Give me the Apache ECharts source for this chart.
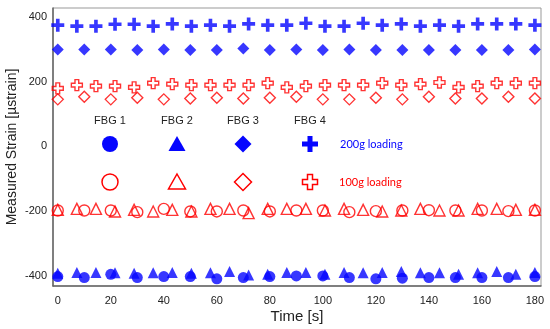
<!DOCTYPE html>
<html><head><meta charset="utf-8">
<script src="https://cdn.jsdelivr.net/npm/echarts@6/dist/echarts.min.js"></script>
<style>html,body{margin:0;padding:0;background:#fff}#c{width:550px;height:329px}</style>
</head><body><div id="c"></div>
<script>
// time bases
const t10 = [0,10,20,30,40,50,60,70,80,90,100,110,120,130,140,150,160,170,180];
const t7 = [0,7.2,14.4,21.6,28.8,36,43.2,50.4,57.6,64.8,72,79.2,86.4,93.6,100.8,108,115.2,122.4,129.6,136.8,144,151.2,158.4,165.6,172.8,180];
// 200g loading (blue)
const fbg4_200 = [374,371,371,377,377,371,378,371,374,371,378,374,374,380,371,371,380,374,378,371,374,371,378,378,378,374];
const fbg3_200 = [299,299,299,297,299,297,297,302,297,299,297,299,297,297,297,297,297,297,299];
const fbg1_200 = [-402,-405,-395,-405,-402,-402,-409,-405,-402,-400,-400,-405,-409,-407,-405,-405,-405,-405,-402];
const fbg2_200 = [-392,-389,-389,-390,-392,-390,-389,-392,-390,-386,-397,-395,-389,-389,-395,-389,-390,-389,-386,-390,-390,-395,-390,-386,-395,-389];
// 100g loading (red)
const fbg4_100 = [179,189,186,186,182,195,192,189,189,189,189,195,182,186,189,189,189,195,189,192,197,182,186,195,195,195];
const fbg3_100 = [145,153,145,150,145,148,150,148,150,153,145,145,150,145,153,148,148,153,148];
const fbg1_100 = [-198,-198,-198,-203,-193,-201,-201,-198,-201,-198,-198,-203,-200,-198,-197,-198,-198,-200,-198];
const fbg2_100 = [-196,-193,-193,-201,-196,-201,-196,-201,-193,-193,-206,-193,-193,-193,-198,-193,-196,-201,-198,-193,-198,-198,-193,-193,-196,-196];
// ticks
const xTicks = [0,20,40,60,80,100,120,140,160,180];
const yTicks = [-400,-200,0,200,400];
const sensorNames = ['FBG 1','FBG 2','FBG 3','FBG 4'];
const loadNames = ['200g loading','100g loading'];

const BLUE = '#0505ff', RED = '#ff0000';
const PLUS = 'path://M0,36H36V0H64V36H100V64H64V100H36V64H0Z';
const CROSS = 'path://M0,33H33V0H67V33H100V67H67V100H33V67H0Z';
const zip = (a,b) => a.map((v,i)=>[v,b[i]]);

function filled(data, sym, size, color){
  return {type:'scatter', data, symbol:sym, symbolSize:size, itemStyle:{color}, silent:true};
}
function open(data, sym, size, color){
  return {type:'scatter', data, symbol:sym, symbolSize:size, itemStyle:{color:'rgba(0,0,0,0)', borderColor:color, borderWidth:1.4}, silent:true};
}

// legend graphics
const colX = [110,177,243,310];
const row1 = 144, row2 = 182, rowT = 121;
function plusPts(cx,cy,s,a){ const h=s/2, w=a/2; return [[cx-h,cy-w],[cx-w,cy-w],[cx-w,cy-h],[cx+w,cy-h],[cx+w,cy-w],[cx+h,cy-w],[cx+h,cy+w],[cx+w,cy+w],[cx+w,cy+h],[cx-w,cy+h],[cx-w,cy+w],[cx-h,cy+w]]; }
function legendRow(cy, color, fill, lw){
  const st = {fill: fill, stroke: color, lineWidth: lw};
  return [
    {type:'circle', shape:{cx:colX[0], cy, r:8}, style:st},
    {type:'polygon', shape:{points:[[colX[1],cy-8],[colX[1]+8.5,cy+7],[colX[1]-8.5,cy+7]]}, style:st},
    {type:'polygon', shape:{points:[[colX[2],cy-8.5],[colX[2]+8.5,cy],[colX[2],cy+8.5],[colX[2]-8.5,cy]]}, style:st},
    {type:'polygon', shape:{points: fill==='#fff' ? plusPts(colX[3],cy,15,5) : plusPts(colX[3],cy,16,5)}, style:st}
  ];
}
const graphics = [];
sensorNames.forEach((n,i)=>graphics.push({type:'text', x:colX[i], y:rowT, style:{text:n, fill:'#222', font:'11px "Liberation Sans", Arial', align:'center', verticalAlign:'middle'}}));
legendRow(row1, BLUE, BLUE, 0).forEach(g=>graphics.push(g));
legendRow(row2, RED, '#fff', 1.5).forEach(g=>graphics.push(g));
graphics.push({type:'text', x:340, y:row1, style:{text:loadNames[0], fill:BLUE, font:'11px Lato, "Liberation Sans"', verticalAlign:'middle'}});
graphics.push({type:'text', x:339, y:row2, style:{text:loadNames[1], fill:RED, font:'11px Lato, "Liberation Sans"', verticalAlign:'middle'}});

const chart = echarts.init(document.getElementById('c'), null, {renderer:'canvas'});
chart.setOption({
  animation:false,
  backgroundColor:'#fff',
  grid:{left:53, right:9, top:8, bottom:43, show:true, borderColor:'#999', borderWidth:1, containLabel:false, outerBoundsMode:'none'},
  xAxis:{type:'value', min:-1.8, max:182.3,
    name:'Time [s]', nameLocation:'middle', nameGap:23, nameMoveOverlap:false,
    nameTextStyle:{fontSize:15, color:'#222', fontFamily:'Liberation Sans'},
    axisLine:{show:true, onZero:false, lineStyle:{color:'#666', width:1.5}}, axisTick:{show:false}, splitLine:{show:false},
    axisLabel:{customValues:xTicks, color:'#222', fontSize:11, fontFamily:'Liberation Sans', margin:9}},
  yAxis:{type:'value', min:-431, max:427,
    name:'Measured Strain [\u00b5strain]', nameLocation:'middle', nameGap:34, nameRotate:90, nameMoveOverlap:false,
    nameTextStyle:{fontSize:14, color:'#222', fontFamily:'Liberation Sans'},
    axisLine:{show:true, onZero:false, lineStyle:{color:'#666', width:1.5}}, axisTick:{show:false}, splitLine:{show:false},
    axisLabel:{customValues:yTicks, color:'#222', fontSize:11, fontFamily:'Liberation Sans', margin:6}},
  series:[
    filled(zip(t7,fbg4_200), PLUS, 13, BLUE),
    filled(zip(t10,fbg3_200), 'diamond', 12, BLUE),
    open(zip(t7,fbg4_100), CROSS, 11, RED),
    open(zip(t10,fbg3_100), 'diamond', 11, RED),
    open(zip(t10,fbg1_100), 'circle', 11, RED),
    open(zip(t7,fbg2_100), 'triangle', 11, RED),
    filled(zip(t10,fbg1_200), 'circle', 11, BLUE),
    filled(zip(t7,fbg2_200), 'triangle', 11, BLUE)
  ],
  graphic: graphics
});
</script></body></html>
